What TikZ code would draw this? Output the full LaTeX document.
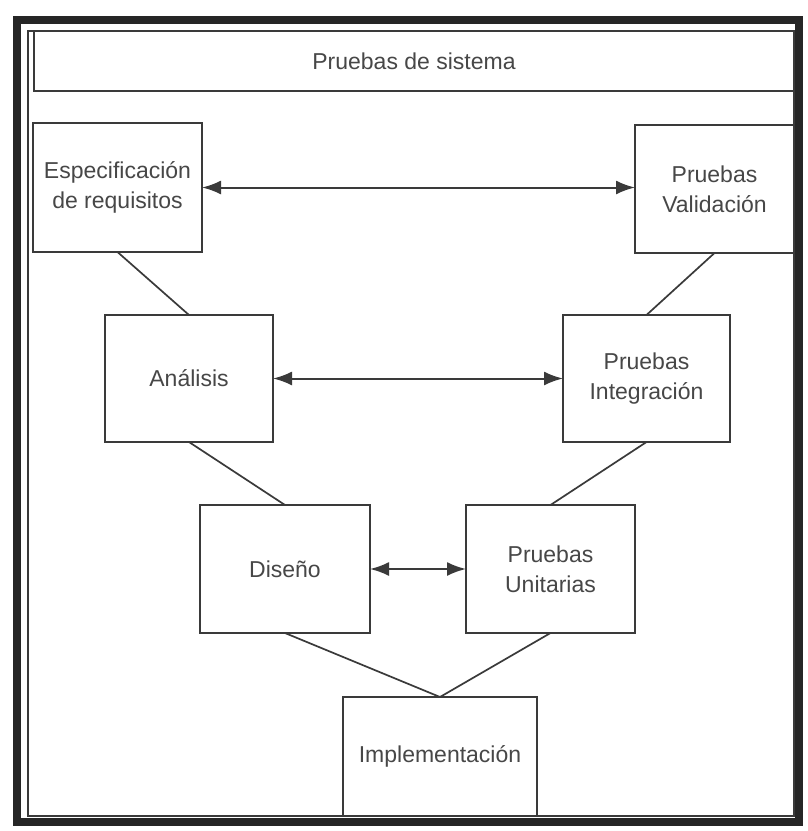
\documentclass[tikz,border=0pt]{standalone}
\usepackage{fontspec}
\setmainfont{Liberation Sans}
\usetikzlibrary{arrows.meta}
\definecolor{ink}{HTML}{3A3A3A}
\definecolor{txt}{HTML}{474747}
\definecolor{frm}{HTML}{262626}
\begin{document}
\begin{tikzpicture}[x=1pt,y=-1pt,
  stage/.style={draw=ink, line width=2pt, fill=white, inner sep=0pt, outer sep=0pt,
    align=center, text=txt, font=\fontsize{23}{30}\selectfont},
  link/.style={draw=ink, line width=1.7pt},
  biarrow/.style={draw=ink, line width=2pt, {Latex[length=19pt,width=14pt]}-{Latex[length=19pt,width=14pt]}}]
\useasboundingbox (0,0) rectangle (807,831);
\fill[white] (0,0) rectangle (807,831);
% frame
\draw[frm, line width=8pt] (17,20) rectangle (799,822);
\draw[ink, line width=1.6pt] (28,31) rectangle (794,816);
\node[draw=ink, line width=1.6pt, inner sep=0pt, outer sep=0pt, minimum width=760pt, minimum height=60pt,
  text=txt, font=\fontsize{23}{29}\selectfont] (title) at (414,61) {Pruebas de sistema};
% stages
\node[stage, minimum width=169pt, minimum height=129pt] (espec) at (117.5,187.5) {Especificación\\de requisitos};
\node[stage, minimum width=159pt, minimum height=128pt] (valid) at (714.5,189) {Pruebas\\Validación};
\node[stage, minimum width=168pt, minimum height=127pt] (anal) at (189,378.5) {Análisis};
\node[stage, minimum width=167pt, minimum height=127pt] (integ) at (646.5,378.5) {Pruebas\\Integración};
\node[stage, minimum width=170pt, minimum height=128pt] (dis) at (285,569) {Diseño};
\node[stage, minimum width=169pt, minimum height=128pt] (unit) at (550.5,569) {Pruebas\\Unitarias};
\node[stage, minimum width=194pt, minimum height=119pt] (impl) at (440,756.5) {Implementación};
% V links
\draw[link] (espec.south) -- (anal.north);
\draw[link] (anal.south) -- (dis.north);
\draw[link] (dis.south) -- (impl.north);
\draw[link] (valid.south) -- (integ.north);
\draw[link] (integ.south) -- (unit.north);
\draw[link] (unit.south) -- (impl.north);
% horizontal arrows
\draw[biarrow] (espec.east) -- (espec.east -| valid.west);
\draw[biarrow] (anal.east) -- (integ.west);
\draw[biarrow] (dis.east) -- (unit.west);
\end{tikzpicture}
\end{document}
